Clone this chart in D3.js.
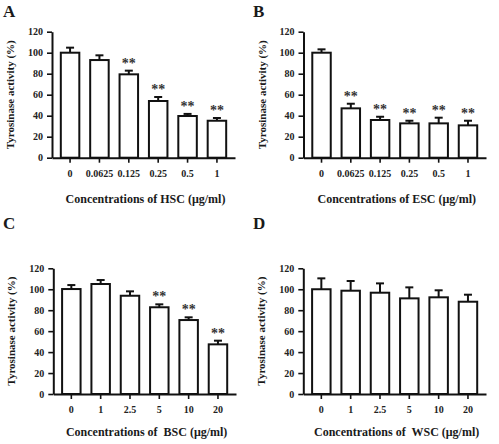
<!DOCTYPE html>
<html><head><meta charset="utf-8">
<script src="https://cdn.jsdelivr.net/npm/d3@7"></script>
<style>
body{margin:0;background:#fff;}
svg text{font-family:"Liberation Serif","Times New Roman",serif !important;font-weight:bold;fill:#1a1a1a;}
</style></head>
<body>
<script>
const catsHSC = ["0","0.0625","0.125","0.25","0.5","1"];
const valsA = [100, 93, 79.4, 54, 39.7, 35.2];
const errA  = [4.8, 4.5, 3.5, 3.8, 2, 2.6];
const starsA = [false, false, true, true, true, true];

const catsESC = ["0","0.0625","0.125","0.25","0.5","1"];
const valsB = [100, 47, 35.9, 32.7, 32.7, 30.8];
const errB  = [3.2, 4.4, 3.1, 2.5, 5.4, 4.4];
const starsB = [false, true, true, true, true, true];

const catsBSC = ["0","1","2.5","5","10","20"];
const valsC = [100.2, 105, 93.8, 82.8, 70.6, 47.4];
const errC  = [3.8, 3.8, 4.2, 2.8, 2.6, 3.5];
const starsC = [false, false, false, true, true, true];

const catsWSC = ["0","1","2.5","5","10","20"];
const valsD = [100, 98.6, 96.7, 91.3, 92.3, 88.1];
const errD  = [10.4, 9.3, 8.9, 10.5, 6.7, 6.7];
const starsD = [false, false, false, false, false, false];

const yTicks = [0, 20, 40, 60, 80, 100, 120];
const FONT = '"Liberation Serif","Times New Roman",serif';

const svg = d3.select("body").append("svg").attr("width", 499).attr("height", 444)
  .attr("font-family", FONT);

function panel(cfg) {
  const g = svg.append("g");
  const y = d3.scaleLinear().domain([0, 120]).range([cfg.bottom, cfg.top]);
  const x = d3.scaleBand().domain(cfg.cats).range([cfg.left, cfg.right])
    .paddingInner(0.37).paddingOuter(0.3);

  const data = cfg.cats.map((c, i) => ({c, v: cfg.vals[i], e: cfg.errs[i], s: cfg.stars[i]}));
  const cx = d => x(d.c) + x.bandwidth() / 2;
  g.selectAll(".err").data(data).join("line")
    .attr("x1", cx).attr("x2", cx)
    .attr("y1", d => y(d.v)).attr("y2", d => y(d.v + d.e))
    .attr("stroke", "#111").attr("stroke-width", 2);
  g.selectAll(".cap").data(data).join("line")
    .attr("x1", d => cx(d) - 4).attr("x2", d => cx(d) + 4)
    .attr("y1", d => y(d.v + d.e)).attr("y2", d => y(d.v + d.e))
    .attr("stroke", "#111").attr("stroke-width", 2);
  g.selectAll(".bar").data(data).join("rect")
    .attr("x", d => x(d.c)).attr("width", x.bandwidth())
    .attr("y", d => y(d.v)).attr("height", d => y(0) - y(d.v))
    .attr("fill", "#fff").attr("stroke", "#111").attr("stroke-width", 2);
  g.selectAll(".star").data(data.filter(d => d.s)).join("text")
    .attr("x", cx).attr("y", d => y(d.v + d.e) - 3)
    .attr("text-anchor", "middle").attr("font-size", 14).attr("font-family", FONT)
    .style("fill", "#333").text("**");

  const ya = g.append("g").attr("transform", `translate(${cfg.left},0)`)
    .call(d3.axisLeft(y).tickValues(yTicks).tickSize(5).tickSizeOuter(0).tickPadding(4));
  const xa = g.append("g").attr("transform", `translate(0,${cfg.bottom})`)
    .call(d3.axisBottom(x).tickSize(5).tickSizeOuter(0).tickPadding(7));
  [ya, xa].forEach(a => {
    a.attr("font-family", FONT).attr("font-size", 10);
    a.select(".domain").attr("stroke", "#111").attr("stroke-width", 2);
    a.selectAll(".tick line").attr("stroke", "#111").attr("stroke-width", 1.6);
    a.selectAll(".tick text").attr("font-size", 10).attr("font-family", FONT).style("fill", "#222");
  });

  g.append("text").attr("x", (cfg.left + cfg.right) / 2 + 2).attr("y", cfg.bottom + cfg.titleOff)
    .attr("text-anchor", "middle").attr("font-size", 12).attr("font-family", FONT)
    .style("white-space", "pre").text(cfg.xTitle);
  g.append("text").attr("transform", `translate(${cfg.left - 38},${(cfg.top + cfg.bottom) / 2}) rotate(-90)`)
    .attr("text-anchor", "middle").attr("font-size", 11).attr("font-family", FONT).text("Tyrosinase activity (%)");
  g.append("text").attr("x", cfg.lx).attr("y", cfg.ly).attr("font-size", 17).attr("font-family", FONT).text(cfg.letter);
}

panel({cats: catsHSC, vals: valsA, errs: errA, stars: starsA, left: 52, right: 235, top: 31.7, bottom: 157.7,
  titleOff: 45, xTitle: "Concentrations of HSC (μg/ml)", letter: "A", lx: 3, ly: 17});
panel({cats: catsESC, vals: valsB, errs: errB, stars: starsB, left: 303.5, right: 486, top: 31.7, bottom: 157.7,
  titleOff: 45, xTitle: "Concentrations of ESC (μg/ml)", letter: "B", lx: 253, ly: 17});
panel({cats: catsBSC, vals: valsC, errs: errC, stars: starsC, left: 53.3, right: 236, top: 268.3, bottom: 394,
  titleOff: 42, xTitle: "Concentrations of  BSC (μg/ml)", letter: "C", lx: 3, ly: 229});
panel({cats: catsWSC, vals: valsD, errs: errD, stars: starsD, left: 303.3, right: 486, top: 268.3, bottom: 394,
  titleOff: 42, xTitle: "Concentrations of  WSC (μg/ml)", letter: "D", lx: 253, ly: 229});
</script>
</body></html>
